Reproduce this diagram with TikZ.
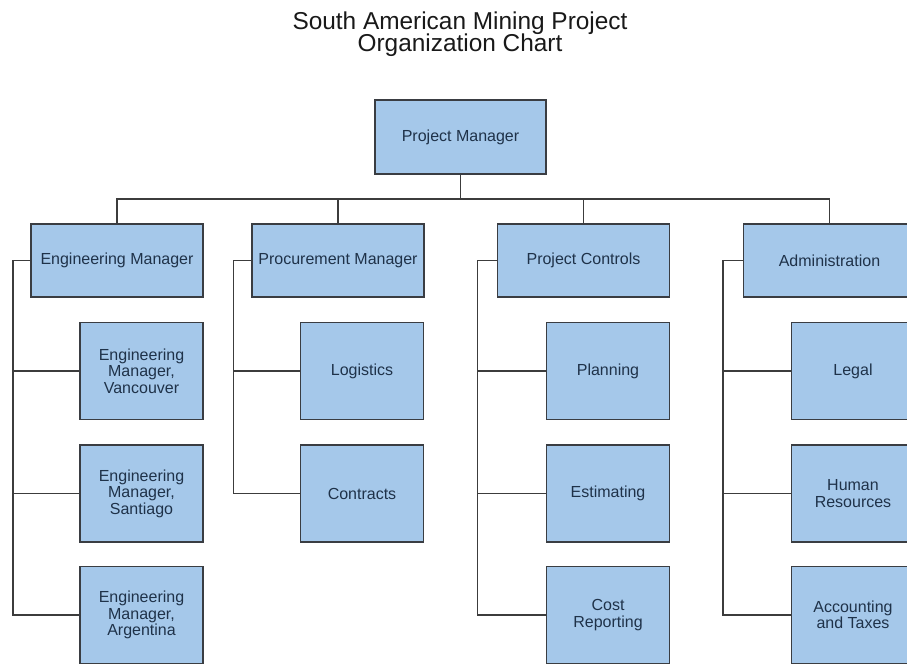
\documentclass[tikz,border=0pt]{standalone}
\usepackage{fontspec}
\setmainfont{Liberation Sans}
\definecolor{boxfill}{HTML}{A5C8EA}
\definecolor{boxline}{HTML}{3A3D42}
\definecolor{boxtext}{HTML}{1F3249}
\definecolor{wire}{HTML}{3C3C3C}
\begin{document}
\begin{tikzpicture}[x=1pt,y=-1pt,
  box/.style={draw=boxline,fill=boxfill,line width=1.4pt,text=boxtext,align=center,
    font=\fontsize{16}{16.5}\selectfont,inner sep=0pt},
  headbox/.style={box,minimum width=172pt,minimum height=73pt},
  childbox/.style={box,minimum width=123pt,minimum height=97pt},
  wirestyle/.style={draw=wire,line width=1.3pt},
  titletext/.style={anchor=base,font=\fontsize{24.4}{24}\selectfont,text=black!90,inner sep=0pt}]
\useasboundingbox[fill=white] (0,0) rectangle (907,664);

\node[titletext] (t1) at (460,29) {South American Mining Project};
\node[titletext] (t2) at (460,51) {Organization Chart};

\node[headbox,minimum width=171pt,minimum height=74pt] (pm) at (460.5,137) {Project Manager};

\node[headbox] (eng) at (117,260.5) {Engineering Manager};
\node[headbox] (proc) at (338,260.5) {Procurement Manager};
\node[headbox] (pc) at (583.5,260.5) {Project Controls};
\node[headbox] (adm) at (829.5,260.5) {Administration};

\node[childbox] (e1) at (141.5,371) {Engineering\\Manager,\\Vancouver};
\node[childbox] (e2) at (141.5,493.5) {Engineering\\Manager,\\Santiago};
\node[childbox] (e3) at (141.5,615) {Engineering\\Manager,\\Argentina};

\node[childbox] (p1) at (362,371) {Logistics};
\node[childbox] (p2) at (362,493.5) {Contracts};

\node[childbox] (c1) at (608,371) {Planning};
\node[childbox] (c2) at (608,493.5) {Estimating};
\node[childbox] (c3) at (608,615) {Cost\\Reporting};

\node[childbox] (a1) at (853,371) {Legal};
\node[childbox] (a2) at (853,493.5) {Human\\Resources};
\node[childbox] (a3) at (853,615) {Accounting\\and Taxes};

% bus
\coordinate (bus) at (460.5,199);
\draw[wirestyle] (pm.south) -- (bus);
\draw[wirestyle] (eng.north) |- (bus) -| (adm.north);
\draw[wirestyle] (proc.north) -- (proc.north |- bus);
\draw[wirestyle] (pc.north) -- (pc.north |- bus);

% trunks
\coordinate (engT) at (13,260.5);
\coordinate (procT) at (233.5,260.5);
\coordinate (pcT) at (477.5,260.5);
\coordinate (admT) at (723,260.5);

\draw[wirestyle] (eng.west) -- (engT) |- (e3.west);
\draw[wirestyle] (engT |- e1.west) -- (e1.west);
\draw[wirestyle] (engT |- e2.west) -- (e2.west);

\draw[wirestyle] (proc.west) -- (procT) |- (p2.west);
\draw[wirestyle] (procT |- p1.west) -- (p1.west);

\draw[wirestyle] (pc.west) -- (pcT) |- (c3.west);
\draw[wirestyle] (pcT |- c1.west) -- (c1.west);
\draw[wirestyle] (pcT |- c2.west) -- (c2.west);

\draw[wirestyle] (adm.west) -- (admT) |- (a3.west);
\draw[wirestyle] (admT |- a1.west) -- (a1.west);
\draw[wirestyle] (admT |- a2.west) -- (a2.west);
\end{tikzpicture}
\end{document}
